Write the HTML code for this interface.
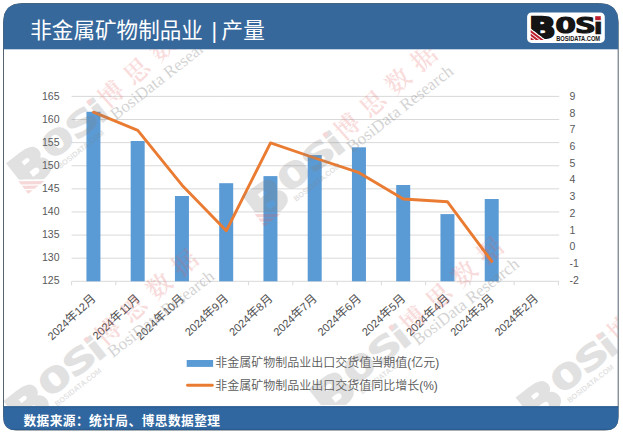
<!DOCTYPE html>
<html lang="zh-CN"><head><meta charset="utf-8"><title>非金属矿物制品业 | 产量</title>
<style>
html,body{margin:0;padding:0;background:#fff;}
body{width:623px;height:433px;overflow:hidden;font-family:"Liberation Sans","Noto Sans CJK SC",sans-serif;}
svg{display:block}
text{font-family:"Liberation Sans","Noto Sans CJK SC",sans-serif;}
.ct{font-weight:350;}
.lg text{font-weight:bold;}
.sf{font-family:"Liberation Serif","Noto Serif CJK SC",serif;}
.lf{font-family:"DejaVu Sans","Liberation Sans",sans-serif;}
.lm{font-family:"DejaVu Sans Mono","Liberation Mono",monospace;}
</style></head><body>
<svg width="623" height="433" viewBox="0 0 623 433">
<defs>
<clipPath id="card"><path d="M3.5 49 V22 Q3.5 3.5 22 3.5 H599.7 Q618.2 3.5 618.2 22 V417.5 Q618.2 430 605.7 430 H16 Q3.5 430 3.5 417.5 Z"/></clipPath>
<clipPath id="bcut"><polygon points="-2,-2 80,-2 80,34 27.5,34 -2,11.6"/></clipPath>
<clipPath id="body"><rect x="4" y="49.3" width="613.7" height="357"/></clipPath>
</defs>
<rect width="623" height="433" fill="#ffffff"/>

<path d="M3.5 49 V22 Q3.5 3.5 22 3.5 H599.7 Q618.2 3.5 618.2 22 V417.5 Q618.2 430 605.7 430 H16 Q3.5 430 3.5 417.5 Z" fill="#ffffff" stroke="#55636f" stroke-width="1"/>
<g clip-path="url(#card)"><rect x="0" y="0" width="623" height="49.3" fill="#36689c"/><rect x="0" y="406.3" width="623" height="30" fill="#3067a0"/><rect x="0" y="406.3" width="623" height="1.1" fill="#2b5a8e"/><rect x="0" y="428.9" width="623" height="2" fill="#2b5a8e"/></g>
<text y="38.3" font-size="21.6" fill="#ffffff"><tspan x="30.2">非金属矿物制品业</tspan><tspan x="205.6" xml:space="preserve"> | </tspan><tspan x="221.6">产量</tspan></text>
<g transform="translate(527.1,12.6)"><rect x="0" y="-0.1" width="77.7" height="30.4" rx="4.5" ry="4.5" fill="#ffffff"/>
<polygon points="3.60,17.34 16.71,27.30 13.42,27.30 3.60,19.84" fill="#bc202e"/>
<polygon points="3.60,20.94 11.97,27.30 8.68,27.30 3.60,23.44" fill="#bc202e"/>
<polygon points="3.60,24.54 7.24,27.30 3.95,27.30 3.60,27.04" fill="#bc202e"/>
<g clip-path="url(#bcut)"><text transform="translate(2.13,25.40) scale(3.449,2.894)" font-size="10" font-weight="bold" class="lf" fill="#141414" stroke="#141414" stroke-width="2.6" stroke-linejoin="miter" vector-effect="non-scaling-stroke">B</text></g>
<text transform="translate(28.28,20.11) scale(3.378,2.062)" font-size="10" font-weight="bold" class="lm" fill="#141414" stroke="#141414" stroke-width="1.6" stroke-linejoin="miter" vector-effect="non-scaling-stroke">O</text>
<text transform="translate(48.08,20.11) scale(3.361,2.062)" font-size="10" font-weight="bold" class="lm" fill="#141414" stroke="#141414" stroke-width="1.6" stroke-linejoin="miter" vector-effect="non-scaling-stroke">S</text>
<text transform="translate(66.29,20.90) scale(2.746,2.157)" font-size="10" font-weight="bold" class="lf" fill="#141414" stroke="#141414" stroke-width="0.6" stroke-linejoin="miter" vector-effect="non-scaling-stroke">i</text>
<rect x="67.7" y="2.6" width="6.8" height="6.0" fill="#ffffff"/>
<rect x="68.1" y="3.6" width="5.6" height="4.0" fill="#bc202e"/>
<text x="29.1" y="28.6" font-size="6.6" font-weight="bold" fill="#141414" textLength="43.9" lengthAdjust="spacingAndGlyphs">BOSIDATA.COM</text></g>
<text x="23.4" y="424.5" font-size="12.7" letter-spacing="0.45" font-weight="bold" fill="#ffffff">数据来源：统计局、博思数据整理</text>
<line x1="71.6" x2="559.1999999999999" y1="96.40" y2="96.40" stroke="#d9d9d9" stroke-width="1"/>
<line x1="71.6" x2="559.1999999999999" y1="119.51" y2="119.51" stroke="#d9d9d9" stroke-width="1"/>
<line x1="71.6" x2="559.1999999999999" y1="142.62" y2="142.62" stroke="#d9d9d9" stroke-width="1"/>
<line x1="71.6" x2="559.1999999999999" y1="165.74" y2="165.74" stroke="#d9d9d9" stroke-width="1"/>
<line x1="71.6" x2="559.1999999999999" y1="188.85" y2="188.85" stroke="#d9d9d9" stroke-width="1"/>
<line x1="71.6" x2="559.1999999999999" y1="211.96" y2="211.96" stroke="#d9d9d9" stroke-width="1"/>
<line x1="71.6" x2="559.1999999999999" y1="235.08" y2="235.08" stroke="#d9d9d9" stroke-width="1"/>
<line x1="71.6" x2="559.1999999999999" y1="258.19" y2="258.19" stroke="#d9d9d9" stroke-width="1"/>
<line x1="71.6" x2="559.1999999999999" y1="281.30" y2="281.30" stroke="#d9d9d9" stroke-width="1"/>
<line x1="71.60" x2="71.60" y1="281.3" y2="285.3" stroke="#d9d9d9" stroke-width="1"/>
<line x1="115.85" x2="115.85" y1="281.3" y2="285.3" stroke="#d9d9d9" stroke-width="1"/>
<line x1="160.11" x2="160.11" y1="281.3" y2="285.3" stroke="#d9d9d9" stroke-width="1"/>
<line x1="204.36" x2="204.36" y1="281.3" y2="285.3" stroke="#d9d9d9" stroke-width="1"/>
<line x1="248.62" x2="248.62" y1="281.3" y2="285.3" stroke="#d9d9d9" stroke-width="1"/>
<line x1="292.87" x2="292.87" y1="281.3" y2="285.3" stroke="#d9d9d9" stroke-width="1"/>
<line x1="337.13" x2="337.13" y1="281.3" y2="285.3" stroke="#d9d9d9" stroke-width="1"/>
<line x1="381.38" x2="381.38" y1="281.3" y2="285.3" stroke="#d9d9d9" stroke-width="1"/>
<line x1="425.64" x2="425.64" y1="281.3" y2="285.3" stroke="#d9d9d9" stroke-width="1"/>
<line x1="469.89" x2="469.89" y1="281.3" y2="285.3" stroke="#d9d9d9" stroke-width="1"/>
<line x1="514.15" x2="514.15" y1="281.3" y2="285.3" stroke="#d9d9d9" stroke-width="1"/>
<line x1="558.40" x2="558.40" y1="281.3" y2="285.3" stroke="#d9d9d9" stroke-width="1"/>
<text x="59.5" y="99.85" font-size="10.5" fill="#595959" text-anchor="end">165</text>
<text x="59.5" y="122.84" font-size="10.5" fill="#595959" text-anchor="end">160</text>
<text x="59.5" y="145.83" font-size="10.5" fill="#595959" text-anchor="end">155</text>
<text x="59.5" y="168.82" font-size="10.5" fill="#595959" text-anchor="end">150</text>
<text x="59.5" y="191.81" font-size="10.5" fill="#595959" text-anchor="end">145</text>
<text x="59.5" y="214.80" font-size="10.5" fill="#595959" text-anchor="end">140</text>
<text x="59.5" y="237.79" font-size="10.5" fill="#595959" text-anchor="end">135</text>
<text x="59.5" y="260.78" font-size="10.5" fill="#595959" text-anchor="end">130</text>
<text x="59.5" y="283.77" font-size="10.5" fill="#595959" text-anchor="end">125</text>
<text x="569.6" y="99.85" font-size="10.5" fill="#595959">9</text>
<text x="569.6" y="116.57" font-size="10.5" fill="#595959">8</text>
<text x="569.6" y="133.29" font-size="10.5" fill="#595959">7</text>
<text x="569.6" y="150.01" font-size="10.5" fill="#595959">6</text>
<text x="569.6" y="166.73" font-size="10.5" fill="#595959">5</text>
<text x="569.6" y="183.45" font-size="10.5" fill="#595959">4</text>
<text x="569.6" y="200.17" font-size="10.5" fill="#595959">3</text>
<text x="569.6" y="216.89" font-size="10.5" fill="#595959">2</text>
<text x="569.6" y="233.61" font-size="10.5" fill="#595959">1</text>
<text x="569.6" y="250.33" font-size="10.5" fill="#595959">0</text>
<text x="569.6" y="267.05" font-size="10.5" fill="#595959">-1</text>
<text x="569.6" y="283.77" font-size="10.5" fill="#595959">-2</text>
<rect x="86.43" y="111.80" width="14.0" height="169.50" fill="#5b9bd5"/>
<rect x="130.68" y="141.00" width="14.0" height="140.30" fill="#5b9bd5"/>
<rect x="174.94" y="196.00" width="14.0" height="85.30" fill="#5b9bd5"/>
<rect x="219.19" y="183.20" width="14.0" height="98.10" fill="#5b9bd5"/>
<rect x="263.45" y="176.10" width="14.0" height="105.20" fill="#5b9bd5"/>
<rect x="307.70" y="155.10" width="14.0" height="126.20" fill="#5b9bd5"/>
<rect x="351.95" y="147.30" width="14.0" height="134.00" fill="#5b9bd5"/>
<rect x="396.21" y="185.00" width="14.0" height="96.30" fill="#5b9bd5"/>
<rect x="440.46" y="214.10" width="14.0" height="67.20" fill="#5b9bd5"/>
<rect x="484.72" y="199.00" width="14.0" height="82.30" fill="#5b9bd5"/>
<polyline points="93.53,112.20 137.78,130.30 182.04,185.20 226.29,230.80 270.55,142.90 314.80,158.00 359.05,172.70 403.31,199.00 447.56,201.80 491.82,261.40" fill="none" stroke="#e97c32" stroke-width="2.9" stroke-linejoin="round" stroke-linecap="round"/>
<text transform="translate(96.53,299.30) rotate(-43)" font-size="12" fill="#505050" text-anchor="end"><tspan font-size="11.0">2024</tspan>年<tspan font-size="11.0">12</tspan>月</text>
<text transform="translate(140.78,299.30) rotate(-43)" font-size="12" fill="#505050" text-anchor="end"><tspan font-size="11.0">2024</tspan>年<tspan font-size="11.0">11</tspan>月</text>
<text transform="translate(185.04,299.30) rotate(-43)" font-size="12" fill="#505050" text-anchor="end"><tspan font-size="11.0">2024</tspan>年<tspan font-size="11.0">10</tspan>月</text>
<text transform="translate(229.29,299.30) rotate(-43)" font-size="12" fill="#505050" text-anchor="end"><tspan font-size="11.0">2024</tspan>年<tspan font-size="11.0">9</tspan>月</text>
<text transform="translate(273.55,299.30) rotate(-43)" font-size="12" fill="#505050" text-anchor="end"><tspan font-size="11.0">2024</tspan>年<tspan font-size="11.0">8</tspan>月</text>
<text transform="translate(317.80,299.30) rotate(-43)" font-size="12" fill="#505050" text-anchor="end"><tspan font-size="11.0">2024</tspan>年<tspan font-size="11.0">7</tspan>月</text>
<text transform="translate(362.05,299.30) rotate(-43)" font-size="12" fill="#505050" text-anchor="end"><tspan font-size="11.0">2024</tspan>年<tspan font-size="11.0">6</tspan>月</text>
<text transform="translate(406.31,299.30) rotate(-43)" font-size="12" fill="#505050" text-anchor="end"><tspan font-size="11.0">2024</tspan>年<tspan font-size="11.0">5</tspan>月</text>
<text transform="translate(450.56,299.30) rotate(-43)" font-size="12" fill="#505050" text-anchor="end"><tspan font-size="11.0">2024</tspan>年<tspan font-size="11.0">4</tspan>月</text>
<text transform="translate(494.82,299.30) rotate(-43)" font-size="12" fill="#505050" text-anchor="end"><tspan font-size="11.0">2024</tspan>年<tspan font-size="11.0">3</tspan>月</text>
<text transform="translate(539.07,299.30) rotate(-43)" font-size="12" fill="#505050" text-anchor="end"><tspan font-size="11.0">2024</tspan>年<tspan font-size="11.0">2</tspan>月</text>
<rect x="186.7" y="360" width="26.4" height="6.9" fill="#5b9bd5"/>
<text x="215.2" y="367.2" class="ct" font-size="12" fill="#595959">非金属矿物制品业出口交货值当期值(亿元)</text>
<line x1="187.6" x2="212.3" y1="385.3" y2="385.3" stroke="#e97c32" stroke-width="2.9" stroke-linecap="round"/>
<text x="215.2" y="390" class="ct" font-size="12" fill="#595959">非金属矿物制品业出口交货值同比增长(%)</text>
<g clip-path="url(#body)">
<g transform="translate(89.3,101.8) rotate(-38)">
<g transform="translate(-110.44,-8.29) scale(1.58)" opacity="0.23"><polygon points="3.60,17.34 16.71,27.30 13.42,27.30 3.60,19.84" fill="#e05a5a"/>
<polygon points="3.60,20.94 11.97,27.30 8.68,27.30 3.60,23.44" fill="#e05a5a"/>
<polygon points="3.60,24.54 7.24,27.30 3.95,27.30 3.60,27.04" fill="#e05a5a"/>
<g clip-path="url(#bcut)"><text transform="translate(2.13,25.40) scale(3.449,2.894)" font-size="10" font-weight="bold" class="lf" fill="#7f7f7f" stroke="#7f7f7f" stroke-width="2.6" stroke-linejoin="miter" vector-effect="non-scaling-stroke">B</text></g>
<text transform="translate(28.28,20.11) scale(3.378,2.062)" font-size="10" font-weight="bold" class="lm" fill="#7f7f7f" stroke="#7f7f7f" stroke-width="1.6" stroke-linejoin="miter" vector-effect="non-scaling-stroke">O</text>
<text transform="translate(48.08,20.11) scale(3.361,2.062)" font-size="10" font-weight="bold" class="lm" fill="#7f7f7f" stroke="#7f7f7f" stroke-width="1.6" stroke-linejoin="miter" vector-effect="non-scaling-stroke">S</text>
<text transform="translate(66.29,20.90) scale(2.746,2.157)" font-size="10" font-weight="bold" class="lf" fill="#7f7f7f" stroke="#7f7f7f" stroke-width="0.6" stroke-linejoin="miter" vector-effect="non-scaling-stroke">i</text>
<rect x="68.5" y="3.85" width="2.8" height="2.8" fill="#e05a5a"/>
<text x="29.2" y="27.4" font-size="4.8" font-weight="bold" fill="#7f7f7f" textLength="36" lengthAdjust="spacingAndGlyphs">BOSIDATA.COM</text></g>
<text transform="translate(22,7.4) rotate(-4)" x="-12.5" y="9" font-size="25" fill="#e05a5a" opacity="0.21" class="sf" font-weight="600" letter-spacing="9.3">博思数据</text>
<text x="9.5" y="31" font-size="17" fill="#7f7f7f" opacity="0.34" class="sf">BosiData Research</text>
</g>
<g transform="translate(325.5,134.5) rotate(-38)">
<g transform="translate(-110.44,-8.29) scale(1.58)" opacity="0.23"><polygon points="3.60,17.34 16.71,27.30 13.42,27.30 3.60,19.84" fill="#e05a5a"/>
<polygon points="3.60,20.94 11.97,27.30 8.68,27.30 3.60,23.44" fill="#e05a5a"/>
<polygon points="3.60,24.54 7.24,27.30 3.95,27.30 3.60,27.04" fill="#e05a5a"/>
<g clip-path="url(#bcut)"><text transform="translate(2.13,25.40) scale(3.449,2.894)" font-size="10" font-weight="bold" class="lf" fill="#7f7f7f" stroke="#7f7f7f" stroke-width="2.6" stroke-linejoin="miter" vector-effect="non-scaling-stroke">B</text></g>
<text transform="translate(28.28,20.11) scale(3.378,2.062)" font-size="10" font-weight="bold" class="lm" fill="#7f7f7f" stroke="#7f7f7f" stroke-width="1.6" stroke-linejoin="miter" vector-effect="non-scaling-stroke">O</text>
<text transform="translate(48.08,20.11) scale(3.361,2.062)" font-size="10" font-weight="bold" class="lm" fill="#7f7f7f" stroke="#7f7f7f" stroke-width="1.6" stroke-linejoin="miter" vector-effect="non-scaling-stroke">S</text>
<text transform="translate(66.29,20.90) scale(2.746,2.157)" font-size="10" font-weight="bold" class="lf" fill="#7f7f7f" stroke="#7f7f7f" stroke-width="0.6" stroke-linejoin="miter" vector-effect="non-scaling-stroke">i</text>
<rect x="68.5" y="3.85" width="2.8" height="2.8" fill="#e05a5a"/>
<text x="29.2" y="27.4" font-size="4.8" font-weight="bold" fill="#7f7f7f" textLength="36" lengthAdjust="spacingAndGlyphs">BOSIDATA.COM</text></g>
<text transform="translate(22,7.4) rotate(-4)" x="-12.5" y="9" font-size="25" fill="#e05a5a" opacity="0.21" class="sf" font-weight="600" letter-spacing="9.3">博思数据</text>
<text x="9.5" y="31" font-size="17" fill="#7f7f7f" opacity="0.34" class="sf">BosiData Research</text>
</g>
<g transform="translate(86.5,339.5) rotate(-38)">
<g transform="translate(-110.44,-8.29) scale(1.58)" opacity="0.23"><polygon points="3.60,17.34 16.71,27.30 13.42,27.30 3.60,19.84" fill="#e05a5a"/>
<polygon points="3.60,20.94 11.97,27.30 8.68,27.30 3.60,23.44" fill="#e05a5a"/>
<polygon points="3.60,24.54 7.24,27.30 3.95,27.30 3.60,27.04" fill="#e05a5a"/>
<g clip-path="url(#bcut)"><text transform="translate(2.13,25.40) scale(3.449,2.894)" font-size="10" font-weight="bold" class="lf" fill="#7f7f7f" stroke="#7f7f7f" stroke-width="2.6" stroke-linejoin="miter" vector-effect="non-scaling-stroke">B</text></g>
<text transform="translate(28.28,20.11) scale(3.378,2.062)" font-size="10" font-weight="bold" class="lm" fill="#7f7f7f" stroke="#7f7f7f" stroke-width="1.6" stroke-linejoin="miter" vector-effect="non-scaling-stroke">O</text>
<text transform="translate(48.08,20.11) scale(3.361,2.062)" font-size="10" font-weight="bold" class="lm" fill="#7f7f7f" stroke="#7f7f7f" stroke-width="1.6" stroke-linejoin="miter" vector-effect="non-scaling-stroke">S</text>
<text transform="translate(66.29,20.90) scale(2.746,2.157)" font-size="10" font-weight="bold" class="lf" fill="#7f7f7f" stroke="#7f7f7f" stroke-width="0.6" stroke-linejoin="miter" vector-effect="non-scaling-stroke">i</text>
<rect x="68.5" y="3.85" width="2.8" height="2.8" fill="#e05a5a"/>
<text x="29.2" y="27.4" font-size="4.8" font-weight="bold" fill="#7f7f7f" textLength="36" lengthAdjust="spacingAndGlyphs">BOSIDATA.COM</text></g>
<text transform="translate(22,7.4) rotate(-4)" x="-12.5" y="9" font-size="25" fill="#e05a5a" opacity="0.21" class="sf" font-weight="600" letter-spacing="9.3">博思数据</text>
<text x="9.5" y="31" font-size="17" fill="#7f7f7f" opacity="0.34" class="sf">BosiData Research</text>
</g>
<g transform="translate(598.8,336.0) rotate(-38)">
<g transform="translate(-110.44,-8.29) scale(1.58)" opacity="0.23"><polygon points="3.60,17.34 16.71,27.30 13.42,27.30 3.60,19.84" fill="#e05a5a"/>
<polygon points="3.60,20.94 11.97,27.30 8.68,27.30 3.60,23.44" fill="#e05a5a"/>
<polygon points="3.60,24.54 7.24,27.30 3.95,27.30 3.60,27.04" fill="#e05a5a"/>
<g clip-path="url(#bcut)"><text transform="translate(2.13,25.40) scale(3.449,2.894)" font-size="10" font-weight="bold" class="lf" fill="#7f7f7f" stroke="#7f7f7f" stroke-width="2.6" stroke-linejoin="miter" vector-effect="non-scaling-stroke">B</text></g>
<text transform="translate(28.28,20.11) scale(3.378,2.062)" font-size="10" font-weight="bold" class="lm" fill="#7f7f7f" stroke="#7f7f7f" stroke-width="1.6" stroke-linejoin="miter" vector-effect="non-scaling-stroke">O</text>
<text transform="translate(48.08,20.11) scale(3.361,2.062)" font-size="10" font-weight="bold" class="lm" fill="#7f7f7f" stroke="#7f7f7f" stroke-width="1.6" stroke-linejoin="miter" vector-effect="non-scaling-stroke">S</text>
<text transform="translate(66.29,20.90) scale(2.746,2.157)" font-size="10" font-weight="bold" class="lf" fill="#7f7f7f" stroke="#7f7f7f" stroke-width="0.6" stroke-linejoin="miter" vector-effect="non-scaling-stroke">i</text>
<rect x="68.5" y="3.85" width="2.8" height="2.8" fill="#e05a5a"/>
<text x="29.2" y="27.4" font-size="4.8" font-weight="bold" fill="#7f7f7f" textLength="36" lengthAdjust="spacingAndGlyphs">BOSIDATA.COM</text></g>
<text transform="translate(22,7.4) rotate(-4)" x="-12.5" y="9" font-size="25" fill="#e05a5a" opacity="0.21" class="sf" font-weight="600" letter-spacing="9.3">博思数据</text>
<text x="9.5" y="31" font-size="17" fill="#7f7f7f" opacity="0.34" class="sf">BosiData Research</text>
</g>
<g transform="translate(391.4,327.4) rotate(-38)">
<g transform="translate(-110.44,-8.29) scale(1.58)" opacity="0.23"><polygon points="3.60,17.34 16.71,27.30 13.42,27.30 3.60,19.84" fill="#e05a5a"/>
<polygon points="3.60,20.94 11.97,27.30 8.68,27.30 3.60,23.44" fill="#e05a5a"/>
<polygon points="3.60,24.54 7.24,27.30 3.95,27.30 3.60,27.04" fill="#e05a5a"/>
<g clip-path="url(#bcut)"><text transform="translate(2.13,25.40) scale(3.449,2.894)" font-size="10" font-weight="bold" class="lf" fill="#7f7f7f" stroke="#7f7f7f" stroke-width="2.6" stroke-linejoin="miter" vector-effect="non-scaling-stroke">B</text></g>
<text transform="translate(28.28,20.11) scale(3.378,2.062)" font-size="10" font-weight="bold" class="lm" fill="#7f7f7f" stroke="#7f7f7f" stroke-width="1.6" stroke-linejoin="miter" vector-effect="non-scaling-stroke">O</text>
<text transform="translate(48.08,20.11) scale(3.361,2.062)" font-size="10" font-weight="bold" class="lm" fill="#7f7f7f" stroke="#7f7f7f" stroke-width="1.6" stroke-linejoin="miter" vector-effect="non-scaling-stroke">S</text>
<text transform="translate(66.29,20.90) scale(2.746,2.157)" font-size="10" font-weight="bold" class="lf" fill="#7f7f7f" stroke="#7f7f7f" stroke-width="0.6" stroke-linejoin="miter" vector-effect="non-scaling-stroke">i</text>
<rect x="68.5" y="3.85" width="2.8" height="2.8" fill="#e05a5a"/>
<text x="29.2" y="27.4" font-size="4.8" font-weight="bold" fill="#7f7f7f" textLength="36" lengthAdjust="spacingAndGlyphs">BOSIDATA.COM</text></g>
<text transform="translate(22,7.4) rotate(-4)" x="-12.5" y="9" font-size="25" fill="#e05a5a" opacity="0.21" class="sf" font-weight="600" letter-spacing="9.3">博思数据</text>
<text x="9.5" y="31" font-size="17" fill="#7f7f7f" opacity="0.34" class="sf">BosiData Research</text>
</g>
</g>
</svg></body></html>
